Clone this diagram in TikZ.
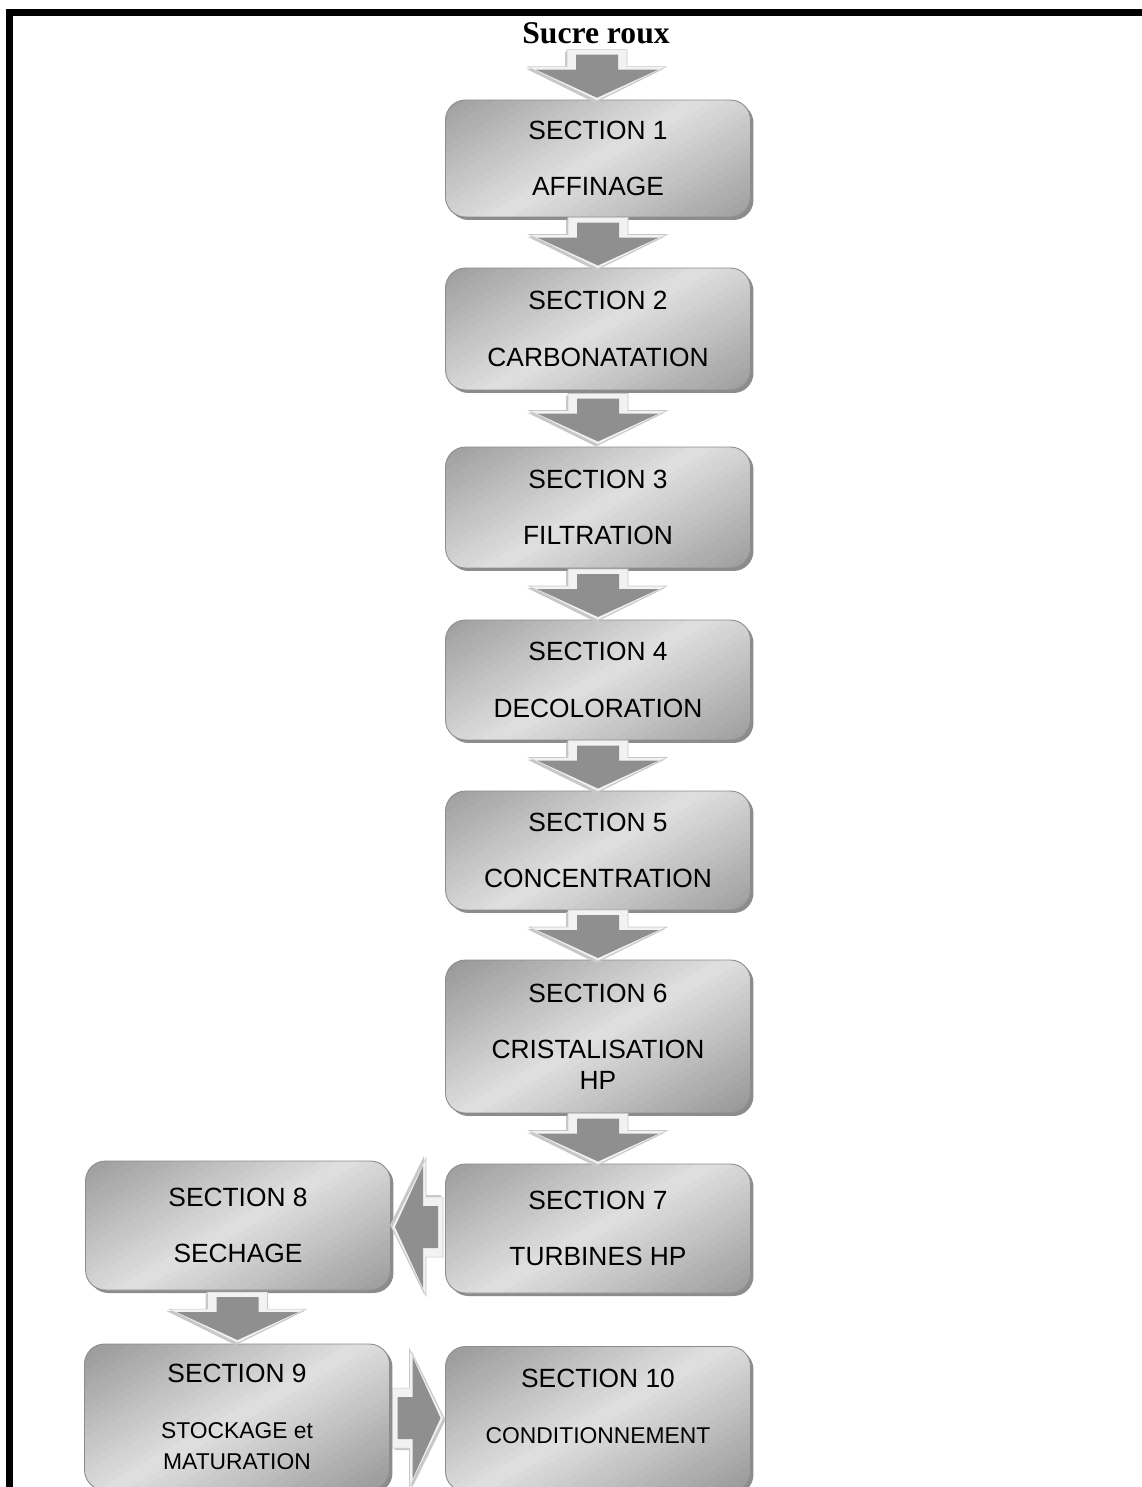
\documentclass[tikz,border=0pt]{standalone}
\usepackage{xcolor}
\usepackage{fontspec}
\setmainfont{Liberation Sans}
\newfontfamily\titlefont{Liberation Serif}
\usepackage{tikz}
\usetikzlibrary{calc,positioning}
\definecolor{BoxDark}{HTML}{969696}
\definecolor{BoxLight}{HTML}{E0E0E0}
\definecolor{BoxEdge}{HTML}{8C8C8C}
\definecolor{ArrowDark}{HTML}{8F8F8F}
\definecolor{ArrowLight}{HTML}{F2F2F2}
\definecolor{ArrowEdge}{HTML}{C8C8C8}

\tikzset{
  secbox/.style={rectangle,rounded corners=0.4cm,minimum width=6.1cm,minimum height=2.4cm,
    align=center,draw=BoxEdge,line width=0.5pt,fill=BoxLight,
    preaction={fill=BoxEdge,transform canvas={shift={(0.06cm,-0.06cm)}}},
    path picture={
      \coordinate (pc) at (path picture bounding box.center);
      \foreach \i in {0,...,39}{
        \pgfmathsetmacro\m{100*abs(\i-19.5)/19.5}
        \pgfmathsetmacro\ax{-0.5*(-82.5+4.13*\i)}
        \pgfmathsetmacro\ay{0.866*(-82.5+4.13*\i)}
        \pgfmathsetmacro\bx{-0.5*(-82.5+4.13*\i+4.6)}
        \pgfmathsetmacro\by{0.866*(-82.5+4.13*\i+4.6)}
        \fill[BoxDark!\m!BoxLight] ($(pc)+(\ax pt,\ay pt)+(-98.6pt,-56.9pt)$)
          -- ($(pc)+(\ax pt,\ay pt)+(98.6pt,56.9pt)$)
          -- ($(pc)+(\bx pt,\by pt)+(98.6pt,56.9pt)$)
          -- ($(pc)+(\bx pt,\by pt)+(-98.6pt,-56.9pt)$) -- cycle;
      }
    },
    font=\fontsize{15}{17.5}\selectfont},
  flowarrow/.pic={
    \fill[ArrowEdge] (-23,-28) -- (-6,-28) -- (-6,-67) -- (28,2) -- (-6,71) -- (-6,32) -- (-23,32) -- cycle;
    \filldraw[fill=ArrowLight,draw=ArrowEdge,line width=0.3pt] (-25,-30) -- (-8,-30) -- (-8,-69) -- (26,0) -- (-8,69) -- (-8,30) -- (-25,30) -- cycle;
    \fill[ArrowDark] (-20,-21) -- (-5,-21) -- (-5,-61) -- (23,0) -- (-5,61) -- (-5,21) -- (-20,21) -- cycle;
  }
}
\newcommand{\petit}{\fontsize{13}{15.9}\selectfont}

\begin{document}
\begin{tikzpicture}[x=0.02cm,y=-0.02cm]
  \useasboundingbox (0,0) rectangle (1142,1487);
  % cadre
  \draw[line width=0.13cm] (9.5,1487) -- (9.5,12.5) -- (1142,12.5);

  \node (titre) at (596,33) {\titlefont\bfseries\fontsize{18}{20}\selectfont Sucre roux};

  % sections
  \node[secbox,minimum height=2.34cm] (s1) at (598,158.5) {SECTION 1\\[14.5pt]AFFINAGE};
  \node[secbox,minimum height=2.44cm] (s2) at (598,329) {SECTION 2\\[14.5pt]CARBONATATION};
  \node[secbox,minimum height=2.42cm] (s3) at (598,507.5) {SECTION 3\\[14.5pt]FILTRATION};
  \node[secbox] (s4) at (598,680) {SECTION 4\\[14.5pt]DECOLORATION};
  \node[secbox,minimum height=2.38cm] (s5) at (598,850.5) {SECTION 5\\[14.5pt]CONCENTRATION};
  \node[secbox,minimum height=3.06cm] (s6) at (598,1036.5) {SECTION 6\\[14.5pt]CRISTALISATION\\HP};
  \node[secbox,minimum height=2.58cm] (s7) at (598,1228.5) {SECTION 7\\[14.5pt]TURBINES HP};
  \node[secbox,minimum height=2.58cm] (s8) at (238,1225.5) {SECTION 8\\[14.5pt]SECHAGE};
  \node[secbox,minimum height=2.92cm] (s9) at (237,1417) {SECTION 9\\[14.5pt]{\petit STOCKAGE et}\\{\petit MATURATION}};
  \node[secbox,minimum height=2.9cm] (s10) at (598,1419) {SECTION 10\\[14.5pt]{\petit CONDITIONNEMENT}\\[-3.4pt]\mbox{}};

  % fleches
  \pic[rotate=-90] at ($(titre.south)!.5!(s1.north)$) {flowarrow};
  \foreach \a/\b in {s1/s2,s2/s3,s3/s4,s4/s5,s5/s6,s6/s7,s8/s9}
    \pic[rotate=-90] at ($(\a.south)!.5!(\b.north)$) {flowarrow};
  \pic[rotate=180] at ($(s7.west)!.5!(s8.east)$) {flowarrow};
  \pic at ($(s9.east)!.5!(s10.west)$) {flowarrow};
\end{tikzpicture}
\end{document}
